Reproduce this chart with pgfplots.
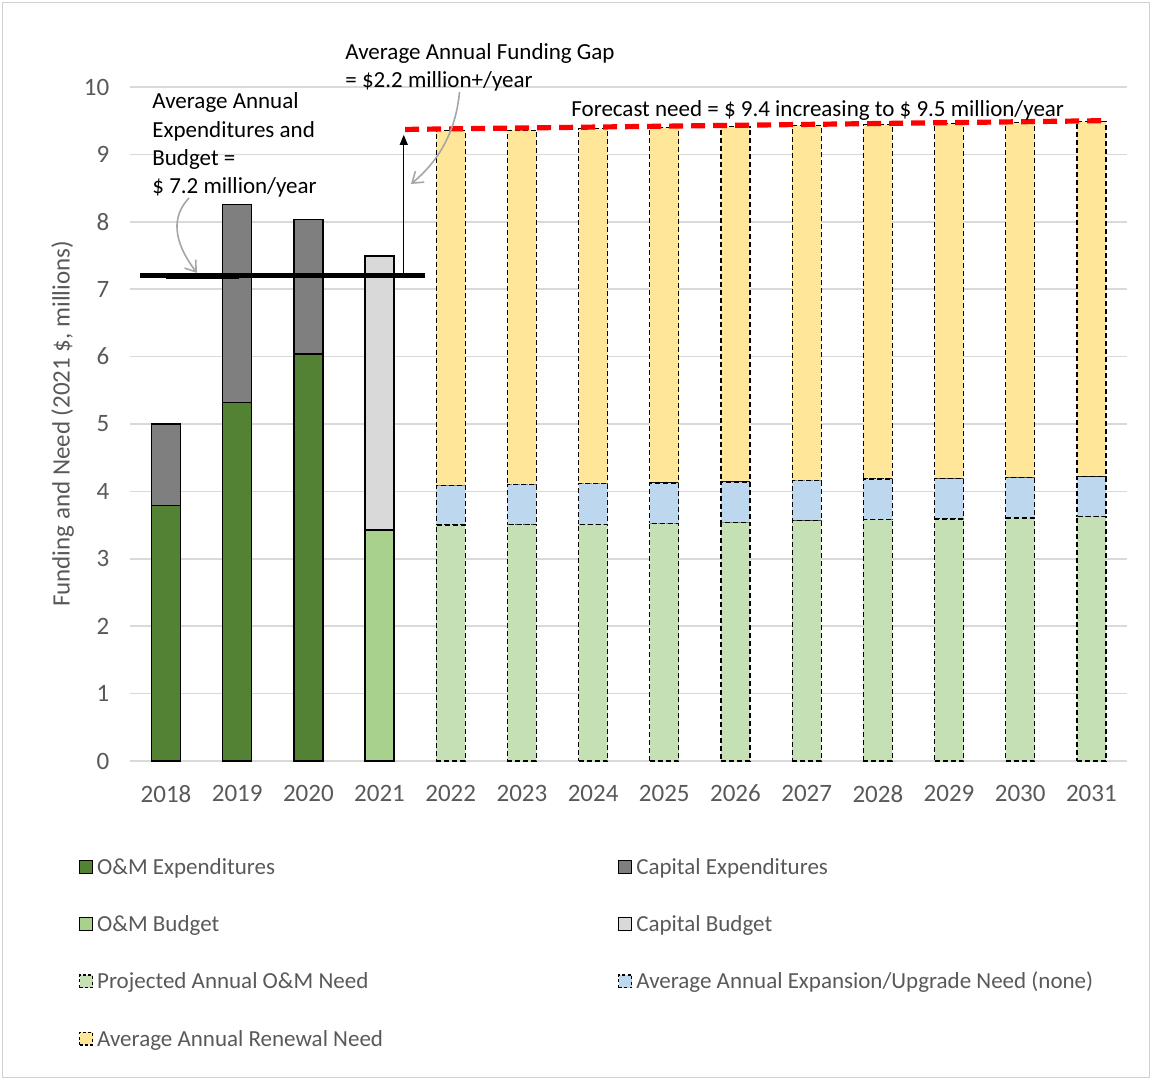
\documentclass[border=0pt]{standalone}
\usepackage{pgfplots}
\pgfplotsset{compat=1.18}
\usepackage{fontspec}
\setmainfont{Carlito}
\usetikzlibrary{arrows.meta}

\definecolor{omexp}{HTML}{548235}
\definecolor{capexp}{HTML}{7F7F7F}
\definecolor{ombud}{HTML}{A9D18E}
\definecolor{capbud}{HTML}{D9D9D9}
\definecolor{projom}{HTML}{C5E0B4}
\definecolor{expn}{HTML}{BDD7EE}
\definecolor{renew}{HTML}{FFE699}
\definecolor{gridgray}{HTML}{D9D9D9}
\definecolor{txtgray}{HTML}{595959}
\definecolor{bordergray}{HTML}{D0D0D0}

\pgfplotsset{
  base/.style={
    scale only axis, width=498.3pt, height=337pt,
    at={(65.2pt,159.5pt)}, anchor=south west,
    xmin=-0.5, xmax=13.5, ymin=0, ymax=10,
    clip=false,
  },
  solidbar/.style={draw=black, line width=0.7pt},
  dashbar/.style={draw=black, line width=0.6pt, dash pattern=on 2.5pt off 1.5pt},
}

\newcommand{\annot}{\fontsize{11.5}{13}\selectfont}

\begin{document}
\begin{tikzpicture}
\path[use as bounding box] (0,0) rectangle (576pt,540pt);
\draw[bordergray, line width=0.6pt] (1.2pt,1.2pt) rectangle (574.8pt,538.8pt);

% Axis frame, grid, ticks, legend and the 2018-2020 expenditures
\begin{axis}[base, ybar stacked, bar width=14.5pt,
  axis line style={draw=none}, tick style={draw=none},
  ymajorgrids, grid style={draw=gridgray, line width=0.75pt},
  xtick={0,...,13},
  xticklabels={2018,2019,2020,2021,2022,2023,2024,2025,2026,2027,2028,2029,2030,2031},
  ytick={0,...,10},
  /pgf/number format/assume math mode=true,
  ticklabel style={font=\fontsize{12.5}{14}\selectfont, text=txtgray},
  xticklabel style={yshift=-8.5pt},
  yticklabel style={xshift=-7pt},
  ylabel={Funding and Need (2021 \$, millions)},
  every axis y label/.style={at={(axis description cs:-0.068,0.5)}, rotate=90, anchor=center,
    font=\fontsize{12.5}{14}\selectfont, text=txtgray},
  legend columns=2,
  legend cell align=left,
  legend style={at={(axis description cs:-0.052,-0.135)}, anchor=north west,
    draw=none, fill=none, font=\annot, text=txtgray, row sep=14pt, inner sep=0pt,
    /tikz/every even column/.append style={column sep=0pt}},
]
\addlegendimage{legend image code/.code={\draw[black, line width=0.6pt, fill=omexp] (0pt,-3.2pt) rectangle (6.5pt,3.2pt);}}
\addlegendentry{\makebox[258.5pt][l]{\strut O\&M Expenditures}}
\addlegendimage{legend image code/.code={\draw[black, line width=0.6pt, fill=capexp] (0pt,-3.2pt) rectangle (6.5pt,3.2pt);}}
\addlegendentry{\strut Capital Expenditures}
\addlegendimage{legend image code/.code={\draw[black, line width=0.6pt, fill=ombud] (0pt,-3.2pt) rectangle (6.5pt,3.2pt);}}
\addlegendentry{\makebox[258.5pt][l]{\strut O\&M Budget}}
\addlegendimage{legend image code/.code={\draw[black, line width=0.6pt, fill=capbud] (0pt,-3.2pt) rectangle (6.5pt,3.2pt);}}
\addlegendentry{\strut Capital Budget}
\addlegendimage{legend image code/.code={\draw[black, line width=0.6pt, dash pattern=on 1.5pt off 1.2pt, fill=projom] (0pt,-3.2pt) rectangle (6.5pt,3.2pt);}}
\addlegendentry{\makebox[258.5pt][l]{\strut Projected Annual O\&M Need}}
\addlegendimage{legend image code/.code={\draw[black, line width=0.6pt, dash pattern=on 1.5pt off 1.2pt, fill=expn] (0pt,-3.2pt) rectangle (6.5pt,3.2pt);}}
\addlegendentry{\strut Average Annual Expansion/Upgrade Need (none)}
\addlegendimage{legend image code/.code={\draw[black, line width=0.6pt, dash pattern=on 1.5pt off 1.2pt, fill=renew] (0pt,-3.2pt) rectangle (6.5pt,3.2pt);}}
\addlegendentry{\makebox[258.5pt][l]{\strut Average Annual Renewal Need}}

% O&M and capital expenditures, 2018-2020
\addplot[forget plot, solidbar, fill=omexp] coordinates {(0,3.79) (1,5.32) (2,6.04)};
\addplot[forget plot, solidbar, fill=capexp] coordinates {(0,1.21) (1,2.94) (2,1.99)};
\end{axis}

% 2021 budget
\begin{axis}[base, hide axis, ybar stacked, bar width=14.5pt]
\addplot[solidbar, fill=ombud] coordinates {(3,3.43)};
\addplot[solidbar, fill=capbud] coordinates {(3,4.06)};
\end{axis}

% 2022-2031 projected needs
\begin{axis}[base, hide axis, ybar stacked, bar width=14.5pt]
\addplot[dashbar, fill=projom] coordinates {
  (4,3.500) (5,3.505) (6,3.510) (7,3.525) (8,3.540)
  (9,3.565) (10,3.585) (11,3.590) (12,3.605) (13,3.625)};
\addplot[dashbar, fill=expn] coordinates {
  (4,0.59) (5,0.60) (6,0.61) (7,0.60) (8,0.60)
  (9,0.60) (10,0.60) (11,0.60) (12,0.60) (13,0.59)};
\addplot[dashbar, fill=renew] coordinates {
  (4,5.260) (5,5.255) (6,5.260) (7,5.275) (8,5.270)
  (9,5.265) (10,5.255) (11,5.270) (12,5.265) (13,5.275)};
\end{axis}

% Average level and forecast need lines
\begin{axis}[base, hide axis]
\addplot[black, line width=2.6pt] coordinates {(-0.36,7.2) (3.64,7.2)};
\addplot[black, line width=1pt] coordinates {(0,7.17) (1.03,7.17)};
\addplot[red, line width=2.6pt, dash pattern=on 7pt off 4pt] coordinates {(3.36,9.37) (13.19,9.50)};
\draw[-{Triangle[length=5pt,width=4pt]}, line width=0.6pt] (axis cs:3.34,7.2) -- (axis cs:3.34,9.29);
\end{axis}

% Callout arrows
\draw[gray!70, line width=0.8pt, -{Straight Barb[length=5pt,width=7pt]}]
  (94.5pt,441pt) .. controls (86pt,432pt) and (86pt,420pt) .. (98.5pt,403.5pt);
\draw[gray!70, line width=0.8pt, -{Straight Barb[length=5pt,width=7pt]}]
  (229.75pt,494pt) .. controls (228pt,475pt) and (220pt,460pt) .. (205.5pt,448pt);

% Annotation text
\begin{scope}[every node/.style={anchor=base west, inner sep=0pt, font=\annot, text=black}]
\node at (172.5pt,510pt) {Average Annual Funding Gap};
\node at (172.5pt,496pt) {= \$2.2 million+/year};
\node at (76pt,485.5pt) {Average Annual};
\node at (76pt,471pt) {Expenditures and};
\node at (76pt,457pt) {Budget =};
\node at (76pt,443pt) {\$ 7.2 million/year};
\node at (285.5pt,481.5pt) {Forecast need = \$ 9.4 increasing to \$ 9.5 million/year};
\end{scope}
\end{tikzpicture}
\end{document}
